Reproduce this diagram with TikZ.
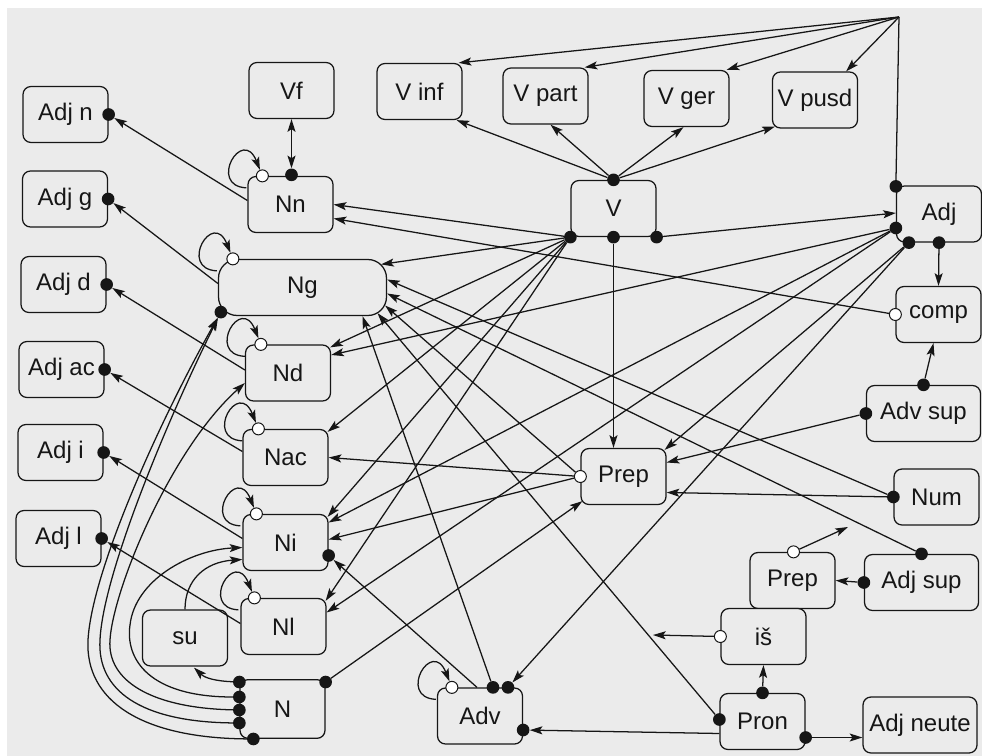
\documentclass[tikz,border=0pt]{standalone}
\usepackage{fontspec}
\setmainfont{Liberation Sans}
\usetikzlibrary{arrows.meta,calc}
\definecolor{bgc}{RGB}{235,235,235}
\definecolor{ink}{RGB}{22,22,22}
\begin{document}
\begin{tikzpicture}[x=0.75pt,y=-0.75pt,
  box/.style={draw=ink, line width=0.95pt, rounded corners=6pt, fill=bgc,
    minimum width=63.75pt, minimum height=42pt, inner sep=0pt,
    font=\fontsize{18}{21}\selectfont, text=ink},
  wide/.style={minimum width=85.5pt},
  dot/.style={circle, fill=ink, inner sep=0pt, minimum size=9.5pt},
  odot/.style={circle, draw=ink, fill=white, line width=0.75pt, inner sep=0pt, minimum size=9pt},
  ar/.style={draw=ink, line width=0.95pt, -{Stealth[length=9.5pt,width=6pt,inset=2pt]}},
  dar/.style={draw=ink, line width=0.95pt, {Stealth[length=9.5pt,width=6pt,inset=2pt]}-{Stealth[length=9.5pt,width=6pt,inset=2pt]}},
  ln/.style={draw=ink, line width=0.95pt}]
\useasboundingbox (0,0) rectangle (982,756);
\fill[white] (0,0) rectangle (982,756);
\fill[bgc] (7,8) rectangle (982,756);

% boxes
\node[box] (AdjN) at (65.5,114.5) {Adj n};
\node[box] (AdjG) at (65,199) {Adj g};
\node[box] (AdjD) at (63.5,284.5) {Adj d};
\node[box] (AdjAc) at (61.5,369.5) {Adj ac};
\node[box] (AdjI) at (60.5,452.5) {Adj i};
\node[box] (AdjL) at (58.5,538.5) {Adj l};
\node[box] (Vf) at (291.5,90.5) {Vf};
\node[box] (Nn) at (290.5,204.5) {Nn};
\node[box, minimum width=126pt, rounded corners=14pt] (Ng) at (302.5,287.5) {Ng};
\node[box] (Nd) at (288,373) {Nd};
\node[box] (Nac) at (285.5,457.5) {Nac};
\node[box] (Ni) at (285.5,542.5) {Ni};
\node[box] (Nl) at (283.5,626.5) {Nl};
\node[box] (su) at (185,638) {su};
\node[box, minimum height=44pt] (N) at (282.5,709) {N};
\node[box] (Vinf) at (419.5,91.5) {V inf};
\node[box] (Vpart) at (545.5,96) {V part};
\node[box] (Vger) at (686.5,98.5) {V ger};
\node[box] (Vpusd) at (815,100) {V pusd};
\node[box] (V) at (613.5,208.5) {V};
\node[box] (Adj) at (939,214) {Adj};
\node[box] (comp) at (938.5,314.5) {comp};
\node[box, wide] (AdvSup) at (923.5,413.5) {Adv sup};
\node[box] (Prep) at (623.5,476.5) {Prep};
\node[box] (Num) at (936.5,497) {Num};
\node[box] (Prep2) at (792.5,580.5) {Prep};
\node[box, wide] (AdjSup) at (921.5,582.5) {Adj sup};
\node[box] (is) at (763.5,636.5) {iš};
\node[box] (Adv) at (480,716) {Adv};
\node[box] (Pron) at (762.5,721.5) {Pron};
\node[box, wide] (AdjNeute) at (920,725) {Adj neute};

% ports
\coordinate (T) at (899,17);
\coordinate (fPrep2) at (848,527);
\coordinate (fIs) at (653,635);
\node[dot] (dNn) at ($(Nn.north)+(1,-1)$) {};
\node[odot] (oNn) at ($(Nn.north west)+(15,0)$) {};
\node[odot] (oNg) at ($(Ng.north west)+(15,0)$) {};
\node[dot] (dNg) at ($(Ng.south west)+(3,-4)$) {};
\node[odot] (oNd) at ($(Nd.north west)+(16,0)$) {};
\node[odot] (oNac) at ($(Nac.north west)+(16,0)$) {};
\node[odot] (oNi) at ($(Ni.north west)+(14,0)$) {};
\node[dot] (dNi) at ($(Ni.east)+(0,13)$) {};
\node[odot] (oNl) at ($(Nl.north west)+(14,0)$) {};
\node[dot] (dN0) at ($(N.north east)+(0,3)$) {};
\node[dot] (dN1) at ($(N.north west)+(0,3)$) {};
\node[dot] (dN2) at ($(N.west)+(0,-12)$) {};
\node[dot] (dN3) at ($(N.west)+(0,1)$) {};
\node[dot] (dN4) at ($(N.west)+(0,14)$) {};
\node[dot] (dN5) at ($(N.south west)+(14,0)$) {};
\node[dot] (dAn) at (AdjN.east) {};
\node[dot] (dAg) at (AdjG.east) {};
\node[dot] (dAd) at (AdjD.east) {};
\node[dot] (dAac) at (AdjAc.east) {};
\node[dot] (dAi) at (AdjI.east) {};
\node[dot] (dAl) at (AdjL.east) {};
\node[dot] (dVt) at (V.north) {};
\node[dot] (dVl) at (V.south west) {};
\node[dot] (dVm) at (V.south) {};
\node[dot] (dVr) at (V.south east) {};
\node[dot] (dA0) at ($(Adj.north west)+(0,1)$) {};
\node[dot] (dA1) at ($(Adj.west)+(0,14)$) {};
\node[dot] (dA2) at ($(Adj.south west)+(13,0)$) {};
\node[dot] (dA3) at (Adj.south) {};
\node[odot] (oComp) at (comp.west) {};
\node[dot] (dAS1) at (AdvSup.north) {};
\node[dot] (dAS2) at (AdvSup.west) {};
\node[dot] (dNum) at (Num.west) {};
\node[odot] (oPrep) at (Prep.west) {};
\node[odot] (oPrep2) at ($(Prep2.north)+(1,0)$) {};
\node[dot] (dSup1) at (AdjSup.north) {};
\node[dot] (dSup2) at (AdjSup.west) {};
\node[odot] (oIs) at (is.west) {};
\node[dot] (dPr1) at (Pron.north) {};
\node[dot] (dPr2) at ($(Pron.west)+(0,-2)$) {};
\node[dot] (dPr3) at ($(Pron.east)+(0,16)$) {};
\node[odot] (oAdv) at ($(Adv.north west)+(15,0)$) {};
\node[dot] (dAdv1) at ($(Adv.north)+(13,0)$) {};
\node[dot] (dAdv2) at ($(Adv.north)+(28,0)$) {};
\node[dot] (dAdv3) at ($(Adv.east)+(0,14)$) {};

% top fan
\draw[ln] (T) -- (dA0);
\draw[ar] (T) -- ($(Vinf.north east)+(-4,0)$);
\draw[ar] (T) -- ($(Vpart.north east)+(-4,0)$);
\draw[ar] (T) -- ($(Vger.north east)+(-3,0)$);
\draw[ar] (T) -- ($(Vpusd.north east)+(-12,0)$);
\draw[ar] (dVt) -- ($(Vinf.south east)+(-6,0)$);
\draw[ar] (dVt) -- ($(Vpart.south)+(5,0)$);
\draw[ar] (dVt) -- ($(Vger.south)+(-3,0)$);
\draw[ar] (dVt) -- ($(Vpusd.south west)+(3,-2)$);
\draw[dar] (Vf.south) -- (dNn);

% N* -> Adj *
\draw[ar] ($(Nn.west)+(0,-4)$) -- (dAn);
\draw[ar] ($(Ng.west)+(0,-4)$) -- (dAg);
\draw[ar] ($(Nd.west)+(0,-3)$) -- (dAd);
\draw[ar] ($(Nac.west)+(0,-6)$) -- (dAac);
\draw[ar] ($(Ni.west)+(0,-4)$) -- (dAi);
\draw[ar] ($(Nl.west)+(0,-3)$) -- (dAl);

% V fan
\draw[ar] (dVl) -- (Nn.east);
\draw[ar] (dVl) -- ($(Ng.north east)+(-6,5.5)$);
\draw[ar] (dVl) -- ($(Nd.north east)+(-1,3)$);
\draw[ar] (dVl) -- ($(Nac.north east)+(-1,3)$);
\draw[ar] (dVl) -- ($(Ni.north east)+(-1,3)$);
\draw[ar] (dVl) -- ($(Nl.north east)+(-1,3)$);
\draw[ar] (dVr) -- ($(Adj.west)+(0,-1)$);
\draw[ar] (dVm) -- (dVm |- Prep.north);

% right side
\draw[ar] (oComp) -- ($(Nn.east)+(0,14)$);
\draw[ar] (dA3) -- (comp.north);
\draw[ar] (dAS1) -- ($(comp.south)+(-5,0)$);
\draw[ar] (dAS2) -- ($(Prep.east)+(0,-14)$);
\draw[ar] (dNum) -- ($(Prep.east)+(0,16)$);
\draw[ar] (dNum) -- ($(Ng.east)+(0,-8)$);
\draw[ar] (dSup1) -- ($(Ng.east)+(0,6)$);
\draw[ar] (oPrep) -- ($(Ng.east)+(-2,18)$);
\draw[ar] (dSup2) -- (Prep2.east);
\draw[ar] (oPrep2) -- (fPrep2);
\draw[ar] (oIs) -- (fIs);
\draw[ar] (dPr1) -- (is.south);
\draw[ar] (dPr3) -- (AdjNeute.west |- dPr3);
\draw[ar] ($(Pron.west)+(0,12)$) -- (dAdv3);
\draw[ar] (dPr2) -- ($(Ng.south)+(75,-3)$);
\draw[ar] (dAdv1) -- ($(Ng.south)+(60,0)$);

% Adj fan
\draw[ar] (dA2) -- (dAdv2);
\draw[ar] (dA2) -- ($(Prep.north east)+(-2,2)$);
\draw[ar] (dA1) -- ($(Nd.east)+(0,-18)$);
\draw[ar] (dA1) -- ($(Ni.east)+(0,-20)$);
\draw[ar] (dA1) -- ($(Nl.east)+(0,-14)$);

% Prep fan
\draw[ar] (oPrep) -- (Nac.east);
\draw[ar] (oPrep) -- ($(Ni.east)+(0,-3)$);
\draw[ar] ($(Adv.north)+(-3,0)$) -- (dNi);
\draw[ar] (dN0) -- ($(Prep.south west)+(2,-4)$);

% N curves
\draw[ar] (dN1) .. controls (215,681) and (205,678) .. ($(su.south)+(9,1)$);
\draw[ar] (dN5) .. controls (140,738) and (85,700) .. (88,640) .. controls (92,570) and (160,420) .. (dNg);
\draw[ar] (dN4) .. controls (140,722) and (97,690) .. (100,640) .. controls (103,575) and (165,425) .. (dNg);
\draw[ar] (dN3) .. controls (150,708) and (107,680) .. (110,640) .. controls (113,590) and (170,450) .. ($(Nd.west)+(0,10)$);
\draw[ar] (dN2) .. controls (150,697) and (125,660) .. (130,625) .. controls (135,580) and (190,550) .. ($(Ni.west)+(0,5)$);
\draw[ar] (su.north) .. controls (185,580) and (205,562) .. ($(Ni.west)+(0,17)$);

% self loops
\foreach \o in {oNn,oNg,oNd,oNac,oNi,oNl,oAdv}
  \draw[ar] ($(\o)+(-16,12)$) .. controls +(-39,-2) and +(-20,-50) .. (\o);
\end{tikzpicture}
\end{document}
